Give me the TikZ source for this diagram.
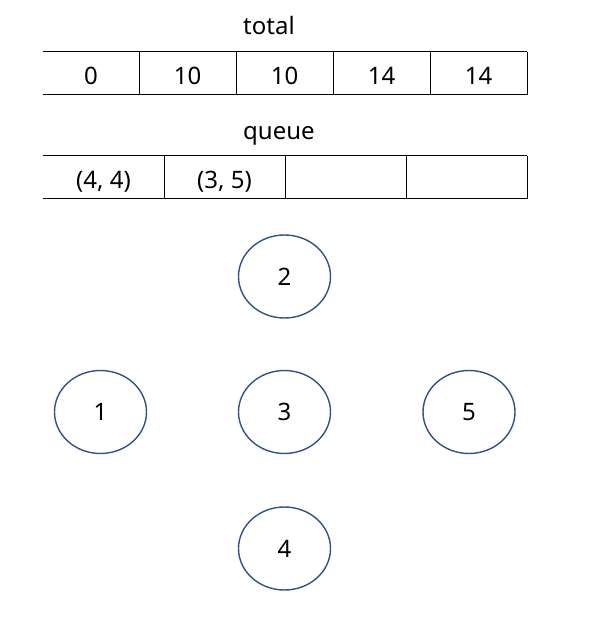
\documentclass[tikz,border=0pt]{standalone}
\usepackage{fontspec}
\setmainfont{Noto Sans}
\usetikzlibrary{shapes.geometric}
\definecolor{nodeblue}{HTML}{2F528F}
\begin{document}
\begin{tikzpicture}[x=1pt,y=-1pt,
  lbl/.style={font=\fontsize{24}{28}\selectfont, inner sep=0pt, anchor=base},
  cellline/.style={draw=black, line width=1pt},
  vnode/.style={ellipse, draw=nodeblue, line width=1.4pt, minimum width=92pt, minimum height=83pt, inner sep=0pt, font=\fontsize{24}{28}\selectfont}]
\useasboundingbox (0,0) rectangle (598,617);
% total array
\node[lbl, anchor=base west] (totallbl) at (243,35) {total};
\draw[cellline] (43,52) -- (527,52) (43,95) -- (527,95);
\foreach \x in {139,236,333,430,527} \draw[cellline] (\x,52) -- (\x,95);
\node[lbl] (t1) at (91,85) {0};
\node[lbl] (t2) at (187.5,85) {10};
\node[lbl] (t3) at (284.5,85) {10};
\node[lbl] (t4) at (381.5,85) {14};
\node[lbl] (t5) at (478.5,85) {14};
% queue array
\node[lbl, anchor=base west] (queuelbl) at (243,140) {queue};
\draw[cellline] (43,156) -- (527,156) (43,199) -- (527,199);
\foreach \x in {164,285,406,527} \draw[cellline] (\x,156) -- (\x,199);
\node[lbl] (q1) at (103.5,189) {(4, 4)};
\node[lbl] (q2) at (224.5,189) {(3, 5)};
% graph nodes
\node[vnode] (n2) at (284.5,276.5) {2};
\node[vnode] (n1) at (100.5,412) {1};
\node[vnode] (n3) at (284.5,412) {3};
\node[vnode] (n5) at (469,412) {5};
\node[vnode] (n4) at (284.5,548.5) {4};
\end{tikzpicture}
\end{document}
